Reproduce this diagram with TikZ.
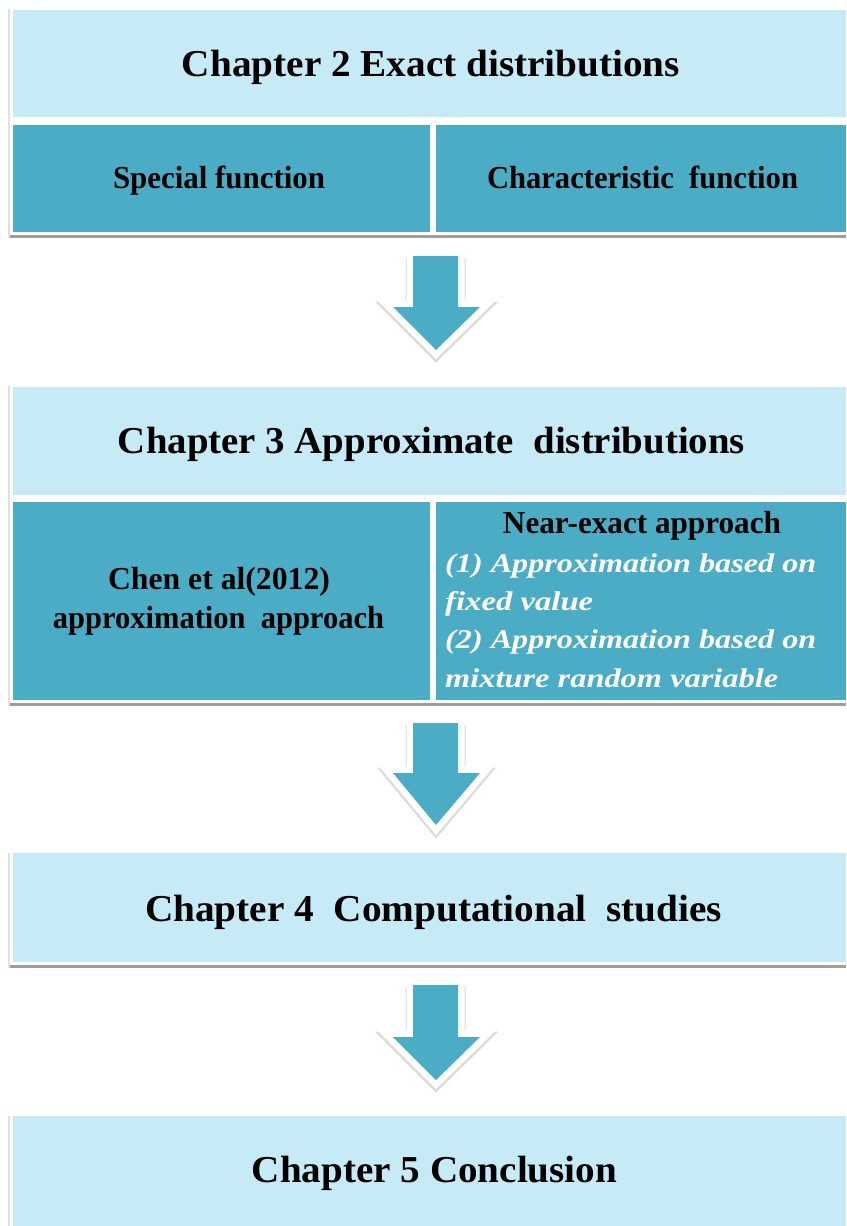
\documentclass[tikz,border=0pt]{standalone}
\usepackage{fontspec}
\setmainfont{Liberation Serif}
\usepackage{graphicx}
\definecolor{lightc}{RGB}{198,234,246}
\definecolor{darkc}{RGB}{75,172,198}
\newcommand\fitw[2]{\resizebox{#1pt}{\height}{#2}}
\newcommand\blockarrow[3]{%
  \draw[black!14, line width=15pt, line join=miter, miter limit=3, yshift=-2pt]
    (413,#1)--(413,#2)--(393,#2)--(436,#3)--(480,#2)--(458,#2)--(458,#1);
  \draw[white, line width=13pt, line join=miter, miter limit=3]
    (413,#1)--(413,#2)--(393,#2)--(436,#3)--(480,#2)--(458,#2)--(458,#1);
  \fill[darkc] (413,#1)--(413,#2)--(393,#2)--(436,#3)--(480,#2)--(458,#2)--(458,#1)--cycle;
}
\newcommand\groupshadow[2]{%
  \fill[black!12] (8,#1+3) rectangle (846,#2+3);
  \fill[black!38] (10,#2) rectangle (846,#2+3);
  \fill[white] (10,#1) rectangle (846,#2);
}
\begin{document}
\begin{tikzpicture}[x=1pt,y=-1pt,
  lbox/.style={rectangle, fill=lightc, inner sep=0pt, outer sep=0pt},
  dbox/.style={rectangle, fill=darkc, inner sep=0pt, outer sep=0pt},
  ttl/.style={anchor=base, inner sep=0pt, font=\fontsize{38}{40}\selectfont\bfseries},
  sub/.style={anchor=base, inner sep=0pt, font=\fontsize{32}{34}\selectfont\bfseries},
  itl/.style={anchor=base west, inner sep=0pt, text=white, font=\fontsize{27}{30}\selectfont\bfseries\itshape}
]
\useasboundingbox[fill=white] (0,0) rectangle (846,1226);

% ---------- group 1 ----------
\groupshadow{6}{235}
\node[lbox, minimum width=833pt, minimum height=107pt] (c2) at (429.5,63.5) {};
\node[dbox, minimum width=417pt, minimum height=107pt] (sf) at (221.5,178.5) {};
\node[dbox, minimum width=410pt, minimum height=107pt] (cf) at (641,178.5) {};
\node[ttl] (c2t) at (431,76) {\fitw{498}{Chapter 2 Exact distributions}};
\node[sub] (sft) at (219,188) {\fitw{212}{Special function}};
\node[sub] (cft) at (642.5,188) {\fitw{311}{Characteristic\ \ function}};

% ---------- group 2 ----------
\groupshadow{383}{703}
\node[lbox, minimum width=833pt, minimum height=108pt] (c3) at (429.5,441) {};
\node[dbox, minimum width=417pt, minimum height=198pt] (chen) at (221.5,601) {};
\node[dbox, minimum width=410pt, minimum height=198pt] (near) at (641,601) {};
\node[ttl] (c3t) at (431.5,453) {\fitw{627}{Chapter 3 Approximate\ \ distributions}};
\node[sub] (chen1) at (219,589) {\fitw{222}{Chen et al(2012)}};
\node[sub] (chen2) at (218.5,628) {\fitw{331}{approximation\ \ approach}};
\node[sub] (neart) at (642,533) {\fitw{278}{Near-exact approach}};
\node[itl] (n1) at (445,572) {\fitw{371}{(1) Approximation based on}};
\node[itl] (n2) at (445,610) {\fitw{148}{fixed value}};
\node[itl] (n3) at (445,648) {\fitw{371}{(2) Approximation based on}};
\node[itl] (n4) at (445,687) {\fitw{333}{mixture random variable}};

% ---------- group 3 ----------
\groupshadow{850}{965}
\node[lbox, minimum width=833pt, minimum height=109pt] (c4) at (429.5,907.5) {};
\node[ttl] (c4t) at (433.5,921) {\fitw{577}{Chapter 4\ \ Computational\ \ studies}};

% ---------- group 4 ----------
\groupshadow{1113}{1229}
\node[lbox, minimum width=833pt, minimum height=110pt] (c5) at (429.5,1171) {};
\node[ttl] (c5t) at (434.5,1182) {\fitw{365}{Chapter 5 Conclusion}};

% ---------- arrows ----------
\blockarrow{256}{307}{350}
\blockarrow{723}{773}{825}
\blockarrow{985}{1037}{1080}
\end{tikzpicture}
\end{document}
